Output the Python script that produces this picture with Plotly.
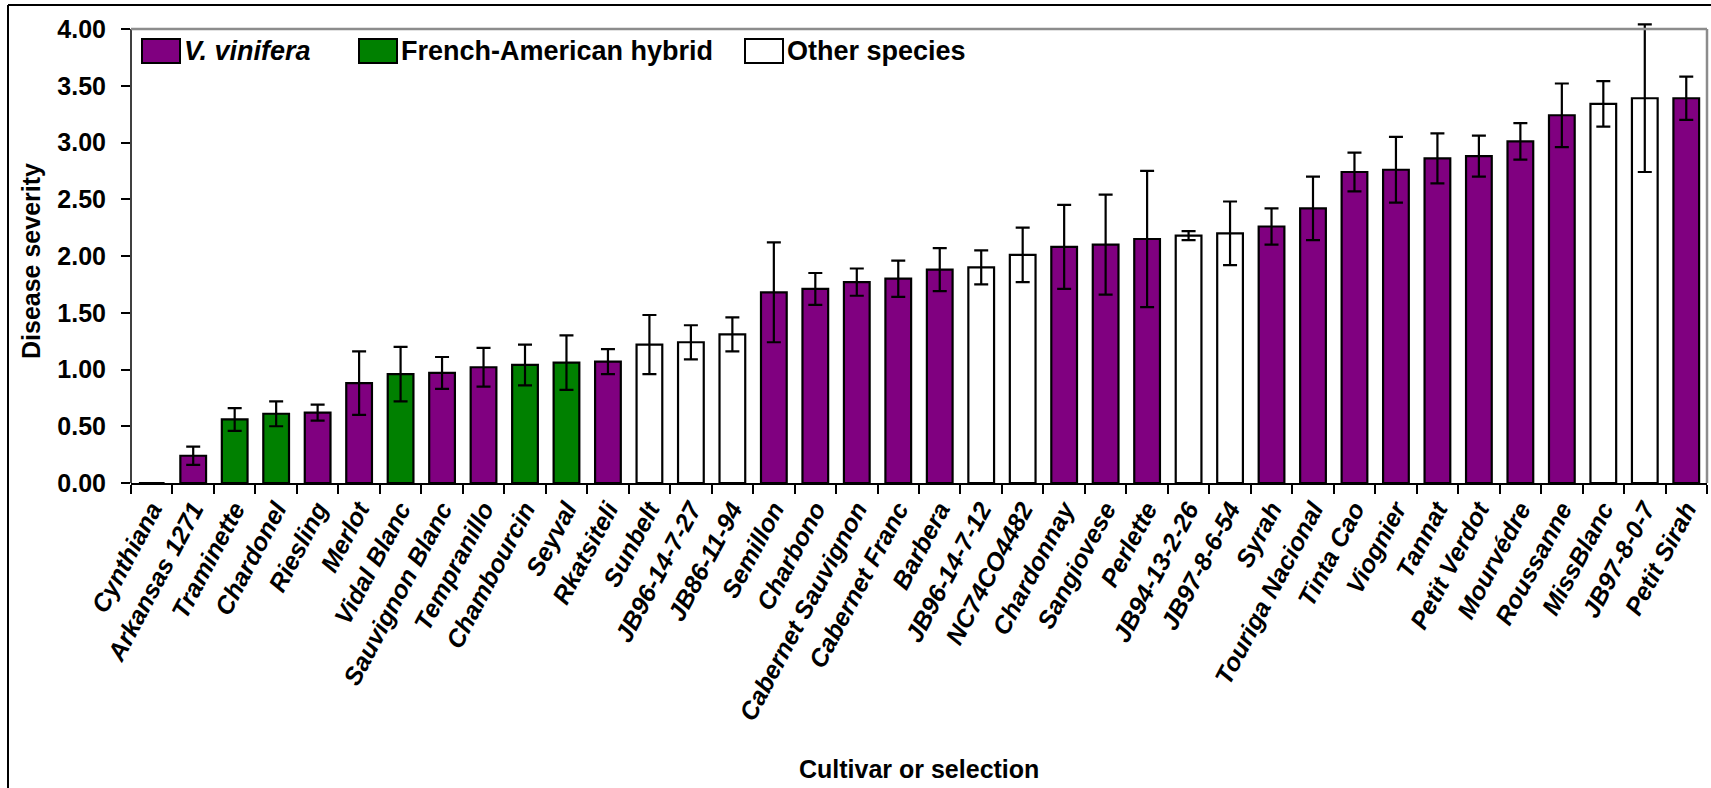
import plotly.graph_objects as go

cultivars = ["Cynthiana", "Arkansas 1271", "Traminette", "Chardonel", "Riesling", "Merlot",
             "Vidal Blanc", "Sauvignon Blanc", "Tempranillo", "Chambourcin", "Seyval", "Rkatsiteli",
             "Sunbelt", "JB96-14-7-27", "JB86-11-94", "Semillon", "Charbono", "Cabernet Sauvignon",
             "Cabernet Franc", "Barbera", "JB96-14-7-12", "NC74CO4482", "Chardonnay", "Sangiovese",
             "Perlette", "JB94-13-2-26", "JB97-8-6-54", "Syrah", "Touriga Nacional", "Tinta Cao",
             "Viognier", "Tannat", "Petit Verdot", "Mourvédre", "Roussanne", "MissBlanc",
             "JB97-8-0-7", "Petit Sirah"]
severity = [0.00, 0.24, 0.56, 0.61, 0.62, 0.88, 0.96, 0.97, 1.02, 1.04, 1.06, 1.07,
            1.22, 1.24, 1.31, 1.68, 1.71, 1.77, 1.80, 1.88, 1.90, 2.01, 2.08, 2.10,
            2.15, 2.18, 2.20, 2.26, 2.42, 2.74, 2.76, 2.86, 2.88, 3.01, 3.24, 3.34,
            3.39, 3.39]
std_err = [0.00, 0.08, 0.10, 0.11, 0.07, 0.28, 0.24, 0.14, 0.17, 0.18, 0.24, 0.11,
           0.26, 0.15, 0.15, 0.44, 0.14, 0.12, 0.16, 0.19, 0.15, 0.24, 0.37, 0.44,
           0.60, 0.04, 0.28, 0.16, 0.28, 0.17, 0.29, 0.22, 0.18, 0.16, 0.28, 0.20,
           0.65, 0.19]
group = ["V", "V", "F", "F", "V", "V", "F", "V", "V", "F", "F", "V",
         "O", "O", "O", "V", "V", "V", "V", "V", "O", "O", "V", "V",
         "V", "O", "O", "V", "V", "V", "V", "V", "V", "V", "V", "O",
         "O", "V"]
legend_keys = ["V", "F", "O"]
legend_labels = ["<i>V. vinifera</i>", "French-American hybrid", "Other species"]
group_colors = {"V": "#800080", "F": "#008000", "O": "#FFFFFF"}
y_max_label = 4.0

FONT = "Liberation Sans, Arial, sans-serif"
W, H = 1711, 788
L, R, T, B = 131, 4, 22, 305
pw, ph = W - L - R, H - T - B
# pixel position of the y=0 and y=4 lines
Y0_PX, Y4_PX = H - B, 29
units_per_px = y_max_label / (Y0_PX - Y4_PX)
y_top = ph * units_per_px   # range top so that 4.00 sits at Y4_PX


def px2x(px):
    return (px - L) / pw


def px2y(py):
    return (H - B - py) / ph


fig = go.Figure()
fig.add_trace(go.Bar(
    x=cultivars, y=severity,
    marker=dict(color=[group_colors[g] for g in group], line=dict(color="black", width=2.2)),
    error_y=dict(type="data", array=std_err, visible=True, color="black", thickness=2.2, width=7),
    cliponaxis=False,
    showlegend=False,
))

fig.update_layout(
    width=W, height=H,
    margin=dict(l=L, r=R, t=T, b=B, pad=0),
    plot_bgcolor="white", paper_bgcolor="white",
    bargap=0.38,
    font=dict(family=FONT, color="black"),
    xaxis=dict(
        type="category", showline=True, linecolor="black", linewidth=1.5,
        ticks="outside", ticklen=9, tickwidth=1.5, tickcolor="black", tickson="boundaries",
        tickangle=-62, automargin=False,
        tickfont=dict(family=FONT, size=25, color="black", weight="bold", style="italic"),
        showgrid=False, zeroline=False,
    ),
    yaxis=dict(
        range=[0, y_top], tickvals=[0, 0.5, 1, 1.5, 2, 2.5, 3, 3.5, 4], tickformat=".2f",
        showline=False,
        ticks="outside", ticklen=9, tickwidth=1.5, tickcolor="black",
        ticklabelstandoff=10, automargin=False,
        tickfont=dict(family=FONT, size=25, color="black", weight="bold"),
        showgrid=False, zeroline=False,
    ),
)

shapes = []
# y axis line from 0 to 4.00
shapes.append(dict(type="line", xref="paper", yref="y", x0=0, x1=0, y0=0, y1=y_max_label,
                   line=dict(color="black", width=1.5)))
# plot area border (grey) top and right
shapes.append(dict(type="line", xref="paper", yref="y", x0=0, x1=1, y0=y_max_label, y1=y_max_label,
                   line=dict(color="#8c8c8c", width=2.5)))
shapes.append(dict(type="line", xref="paper", yref="y", x0=1, x1=1, y0=0, y1=y_max_label,
                   line=dict(color="#8c8c8c", width=2.5)))
# outer chart frame (top and left visible)
shapes.append(dict(type="line", xref="paper", yref="paper", x0=px2x(8), x1=px2x(1720),
                   y0=px2y(5), y1=px2y(5), line=dict(color="black", width=2)))
shapes.append(dict(type="line", xref="paper", yref="paper", x0=px2x(8), x1=px2x(8),
                   y0=px2y(5), y1=px2y(800), line=dict(color="black", width=2)))

annotations = []
# custom legend
key_x = [142, 359, 745]
for k, lab, kx in zip(legend_keys, legend_labels, key_x):
    shapes.append(dict(type="rect", xref="paper", yref="paper",
                       x0=px2x(kx), x1=px2x(kx + 38), y0=px2y(63), y1=px2y(39),
                       fillcolor=group_colors[k], line=dict(color="black", width=2)))
    annotations.append(dict(xref="paper", yref="paper", x=px2x(kx + 40), y=px2y(51),
                            text=lab, showarrow=False, xanchor="left", yanchor="middle",
                            font=dict(family=FONT, size=27, color="black", weight="bold")))

annotations.append(dict(xref="paper", yref="paper", x=px2x(31), y=px2y(261),
                        text="Disease severity", textangle=-90, showarrow=False,
                        xanchor="center", yanchor="middle",
                        font=dict(family=FONT, size=25, color="black", weight="bold")))
annotations.append(dict(xref="paper", yref="paper", x=px2x(919), y=px2y(769),
                        text="Cultivar or selection", showarrow=False,
                        xanchor="center", yanchor="middle",
                        font=dict(family=FONT, size=25, color="black", weight="bold")))

fig.update_layout(shapes=shapes, annotations=annotations)
fig.write_html("out.html")
